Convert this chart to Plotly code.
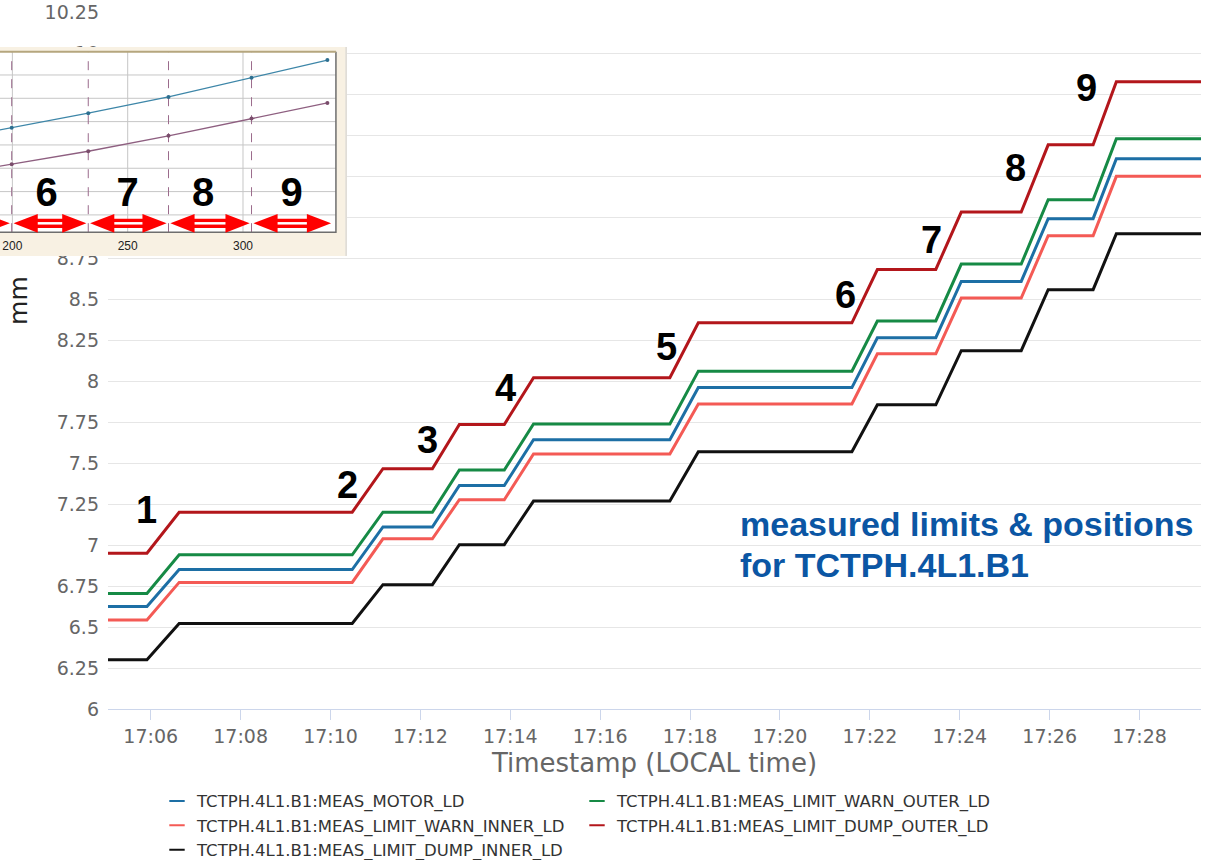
import plotly.graph_objects as go

# ---------------- main chart data ----------------
DAY = "2018-04-14 "
t_start = "17:05:03"
t_end = "17:29:22"
ramp_start = ["17:05:55", "17:10:29", "17:12:16", "17:13:52", "17:17:33",
              "17:21:36", "17:23:28", "17:25:22", "17:26:58"]
ramp_end = ["17:06:38", "17:11:10", "17:12:52", "17:14:31", "17:18:11",
            "17:22:10", "17:24:02", "17:25:58", "17:27:29"]

motor = [6.625, 6.85, 7.11, 7.363, 7.642, 7.96, 8.264, 8.607, 8.99, 9.355]
warn_outer = [6.705, 6.94, 7.20, 7.457, 7.738, 8.06, 8.366, 8.713, 9.105, 9.477]
warn_inner = [6.543, 6.772, 7.038, 7.276, 7.555, 7.86, 8.166, 8.506, 8.886, 9.248]
dump_outer = [6.95, 7.20, 7.465, 7.735, 8.02, 8.355, 8.68, 9.03, 9.44, 9.825]
dump_inner = [6.30, 6.522, 6.758, 7.002, 7.268, 7.569, 7.855, 8.185, 8.557, 8.898]

series_names = ["TCTPH.4L1.B1:MEAS_MOTOR_LD",
                "TCTPH.4L1.B1:MEAS_LIMIT_WARN_OUTER_LD",
                "TCTPH.4L1.B1:MEAS_LIMIT_WARN_INNER_LD",
                "TCTPH.4L1.B1:MEAS_LIMIT_DUMP_OUTER_LD",
                "TCTPH.4L1.B1:MEAS_LIMIT_DUMP_INNER_LD"]
series_values = [motor, warn_outer, warn_inner, dump_outer, dump_inner]
series_colors = ["#1d6fa5", "#168a45", "#f45a55", "#b3161b", "#111111"]

step_labels = ["1", "2", "3", "4", "5", "6", "7", "8", "9"]
step_label_time = ["17:05:54", "17:10:23", "17:12:09", "17:13:53", "17:17:28",
                   "17:21:27", "17:23:22", "17:25:15", "17:26:49"]
step_label_value = [7.215, 7.368, 7.642, 7.959, 8.209, 8.526, 8.861, 9.30, 9.788]

y_ticks = [6 + 0.25 * i for i in range(18)]
x_range = ["17:05:03", "17:29:22"]

# ---------------- inset (screenshot) data ----------------
inset_x = [166.0, 199.7, 232.9, 267.7, 303.7, 336.6]
inset_blue = [3.11, 3.74, 4.36, 5.06, 5.88, 6.64]
inset_purple = [1.61, 2.17, 2.73, 3.39, 4.13, 4.80]
inset_bounds = [166.0, 199.7, 232.9, 267.7, 303.7, 339.0]
inset_labels = ["5", "6", "7", "8", "9"]
inset_label_x = [None, 214.9, 250.0, 282.7, 321.1]
inset_xticks = [200, 250, 300]
inset_ygrid = [0, 1, 2, 3, 4, 5, 6]

# inset geometry (axis ranges)
IX0, IX1 = 194.63, 345.1      # frame x range
IY0, IY1 = -1.757, 7.2        # frame y range
PX1 = 340.3                   # plot-area right edge
PY0, PY1 = -0.741, 7.0        # plot-area bottom/top
ARROW_Y = -0.36
LABEL_Y = 0.82
TICK_Y = -1.36


def step_series(levels):
    xs = [DAY + t_start]
    ys = [levels[0]]
    for i, (a, b) in enumerate(zip(ramp_start, ramp_end)):
        xs += [DAY + a, DAY + b]
        ys += [levels[i], levels[i + 1]]
    xs.append(DAY + t_end)
    ys.append(levels[-1])
    return xs, ys


fig = go.Figure()

for name, vals, col in zip(series_names, series_values, series_colors):
    xs, ys = step_series(vals)
    fig.add_trace(go.Scatter(x=xs, y=ys, mode="lines", name=name,
                             line=dict(color=col, width=3),
                             showlegend=False, hoverinfo="skip",
                             xaxis="x", yaxis="y"))

# legend entries
for name, col in zip(series_names, series_colors):
    fig.add_trace(go.Scatter(x=[None], y=[None], mode="markers", name=name,
                             marker=dict(symbol="line-ew", size=11,
                                         line=dict(color=col, width=2)),
                             xaxis="x", yaxis="y"))

# ---------------- inset traces ----------------
def rect(x0, x1, y0, y1, color):
    return go.Scatter(x=[x0, x1, x1, x0, x0], y=[y0, y0, y1, y1, y0],
                      mode="lines", fill="toself", fillcolor=color,
                      line=dict(width=0), showlegend=False, hoverinfo="skip",
                      xaxis="x2", yaxis="y2")

fig.add_trace(rect(IX0, IX1, IY0, IY1, "#f8f1e3"))
fig.add_trace(rect(IX0, PX1, PY0, PY1, "#ffffff"))

gx, gy = [], []
for v in inset_xticks:
    gx += [v, v, None]
    gy += [PY0, PY1, None]
for v in inset_ygrid:
    gx += [IX0, PX1, None]
    gy += [v, v, None]
fig.add_trace(go.Scatter(x=gx, y=gy, mode="lines", line=dict(color="#c6c6c6", width=1),
                         showlegend=False, hoverinfo="skip", xaxis="x2", yaxis="y2"))

dx, dy = [], []
for v in inset_bounds[:-1]:
    dx += [v, v, None]
    dy += [PY0, PY1, None]
fig.add_trace(go.Scatter(x=dx, y=dy, mode="lines",
                         line=dict(color="#9b6b8c", width=1, dash="dash"),
                         showlegend=False, hoverinfo="skip", xaxis="x2", yaxis="y2"))

fig.add_trace(go.Scatter(x=[IX0, PX1, PX1], y=[PY0, PY0, PY1], mode="lines",
                         line=dict(color="#6e6e6e", width=1.5),
                         showlegend=False, hoverinfo="skip", xaxis="x2", yaxis="y2"))
fig.add_trace(go.Scatter(x=[IX0, PX1], y=[PY1, PY1], mode="lines",
                         line=dict(color="#b5a67e", width=2),
                         showlegend=False, hoverinfo="skip", xaxis="x2", yaxis="y2"))
fig.add_trace(go.Scatter(x=[IX1 - 0.4, IX1 - 0.4], y=[IY0, IY1], mode="lines",
                         line=dict(color="#cfcfcf", width=1),
                         showlegend=False, hoverinfo="skip", xaxis="x2", yaxis="y2"))

fig.add_trace(go.Scatter(x=inset_x, y=inset_blue, mode="lines+markers",
                         line=dict(color="#3d86a8", width=1.3),
                         marker=dict(size=4, color="#2d6f90"),
                         showlegend=False, hoverinfo="skip", xaxis="x2", yaxis="y2"))
fig.add_trace(go.Scatter(x=inset_x, y=inset_purple, mode="lines+markers",
                         line=dict(color="#8e5f80", width=1.3),
                         marker=dict(size=4, color="#7a4d6c"),
                         showlegend=False, hoverinfo="skip", xaxis="x2", yaxis="y2"))

HEAD_L = 10.5
HEAD_H = 0.40
SHAFT_H = 0.2
GAP = 0.8
for a, b in zip(inset_bounds[:-1], inset_bounds[1:]):
    a2, b2 = a + GAP, b - GAP
    px = [a2, a2 + HEAD_L, a2 + HEAD_L, b2 - HEAD_L, b2 - HEAD_L, b2,
          b2 - HEAD_L, b2 - HEAD_L, a2 + HEAD_L, a2 + HEAD_L, a2]
    py = [ARROW_Y, ARROW_Y + HEAD_H, ARROW_Y + SHAFT_H, ARROW_Y + SHAFT_H,
          ARROW_Y + HEAD_H, ARROW_Y, ARROW_Y - HEAD_H, ARROW_Y - SHAFT_H,
          ARROW_Y - SHAFT_H, ARROW_Y - HEAD_H, ARROW_Y]
    fig.add_trace(go.Scatter(x=px, y=py, mode="lines", fill="toself",
                             fillcolor="#ff0000", line=dict(width=0),
                             showlegend=False, hoverinfo="skip",
                             xaxis="x2", yaxis="y2"))
    fig.add_trace(go.Scatter(x=[a2 + HEAD_L, b2 - HEAD_L], y=[ARROW_Y, ARROW_Y],
                             mode="lines", line=dict(color="#ffffff", width=2.5),
                             showlegend=False, hoverinfo="skip",
                             xaxis="x2", yaxis="y2"))

lx = [x for x in inset_label_x if x is not None]
lt = ["<b>%s</b>" % t for t, x in zip(inset_labels, inset_label_x) if x is not None]
fig.add_trace(go.Scatter(x=lx, y=[LABEL_Y] * len(lx), mode="text", text=lt,
                         textfont=dict(family="Liberation Sans", size=40, color="#000000"),
                         showlegend=False, hoverinfo="skip", xaxis="x2", yaxis="y2"))
fig.add_trace(go.Scatter(x=inset_xticks, y=[TICK_Y] * len(inset_xticks), mode="text",
                         text=[str(v) for v in inset_xticks],
                         textfont=dict(family="Liberation Sans", size=12, color="#222222"),
                         showlegend=False, hoverinfo="skip", xaxis="x2", yaxis="y2"))

# ---------------- annotations ----------------
annotations = []
for lab, t, v in zip(step_labels, step_label_time, step_label_value):
    annotations.append(dict(x=DAY + t, y=v, xref="x", yref="y", text="<b>%s</b>" % lab,
                            showarrow=False,
                            font=dict(family="Liberation Sans", size=38, color="#000000")))

annotations.append(dict(x=738 / 1201, y=(709.3 - 524) / 697.3, xref="paper", yref="paper",
                        xanchor="left", yanchor="middle", showarrow=False,
                        text="<b>measured limits &amp; positions</b>",
                        font=dict(family="Liberation Sans", size=34, color="#0b56a4")))
annotations.append(dict(x=738 / 1201, y=(709.3 - 565) / 697.3, xref="paper", yref="paper",
                        xanchor="left", yanchor="middle", showarrow=False,
                        text="<b>for TCTPH.4L1.B1</b>",
                        font=dict(family="Liberation Sans", size=34, color="#0b56a4")))
annotations.append(dict(x=19 / 1201, y=(709.3 - 301) / 697.3, xref="paper", yref="paper",
                        xanchor="center", yanchor="middle", showarrow=False, textangle=-90,
                        text="mm", font=dict(family="DejaVu Sans", size=25, color="#222222")))

fig.update_layout(
    width=1211, height=860,
    margin=dict(l=0, r=10, t=12, b=151, autoexpand=False),
    plot_bgcolor="#ffffff", paper_bgcolor="#ffffff",
    font=dict(family="DejaVu Sans", color="#666666"),
    xaxis=dict(domain=[108 / 1201, 1], type="date",
               range=[DAY + x_range[0], DAY + x_range[1]],
               tickformat="%H:%M", dtick=120000, tick0=DAY + "17:06:00",
               ticks="outside", ticklen=10, tickcolor="#ccd6eb",
               showline=True, linecolor="#ccd6eb", linewidth=1,
               showgrid=False, zeroline=False, automargin=False,
               tickfont=dict(size=19, color="#666666"),
               title=dict(text="Timestamp (LOCAL time)", standoff=8,
                          font=dict(size=26, color="#666666"))),
    yaxis=dict(range=[6, 10.25], tickvals=y_ticks,
               ticktext=["%g" % v for v in y_ticks],
               showgrid=True, gridcolor="#e6e6e6", gridwidth=1, zeroline=False,
               ticks="", ticklabelstandoff=8, automargin=False,
               tickfont=dict(size=19, color="#666666")),
    xaxis2=dict(domain=[0, 347 / 1201], range=[IX0, IX1], anchor="y2",
                visible=False, fixedrange=True),
    yaxis2=dict(domain=[(709.3 - 256) / 697.3, (709.3 - 47) / 697.3], range=[IY0, IY1],
                anchor="x2", visible=False, fixedrange=True),
    legend=dict(orientation="h", x=157 / 1201, xanchor="left",
                y=(709.3 - 784) / 697.3, yanchor="top",
                entrywidth=375, entrywidthmode="pixels",
                font=dict(family="DejaVu Sans", size=16.5, color="#333333"),
                bgcolor="rgba(0,0,0,0)", traceorder="normal"),
    annotations=annotations,
    showlegend=True,
)

fig.write_html("out.html")
